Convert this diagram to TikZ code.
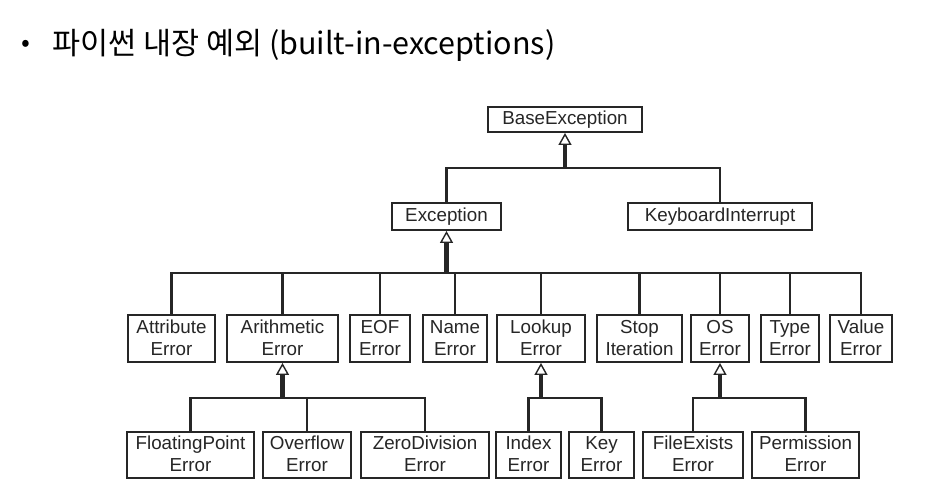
\documentclass[tikz,border=0pt]{standalone}
\usepackage{fontspec}
\setmainfont{Liberation Sans}
\newfontfamily\krfont{Noto Sans CJK KR}
\usetikzlibrary{arrows.meta}
\newcommand\twoline[2]{\rule{0pt}{18pt}#1\\#2\rule[-6.6pt]{0pt}{6.6pt}}
\newcommand\oneline[1]{\rule[-5pt]{0pt}{19pt}#1}
\begin{document}
\begin{tikzpicture}[x=1pt,y=-1pt,
  box/.style={draw=black!85, line width=1.9pt, rectangle, inner sep=0pt, align=center,
    font=\fontsize{18.8}{22}\selectfont, text=black!85},
  conn/.style={draw=black!85, line width=2.2pt},
  inh/.style={draw=black!85, line width=4.2pt,
    -{Triangle[open, width=13pt, length=12pt, line width=1.4pt]}}]
\useasboundingbox (0,0) rectangle (930,490);
\fill[white] (0,0) rectangle (930,490);
% title
\node[anchor=center, font=\fontsize{26}{30}\selectfont] (bul) at (26,46) {\krfont •};
\node[anchor=west, font=\krfont\fontsize{30.5}{34}\selectfont, inner sep=0pt] (title) at (52,45) {파이썬 내장 예외 (built-in-exceptions)};
% level 0/1
\node[box, minimum width=154pt, minimum height=25pt] (base) at (565,119.5) {\oneline{BaseException}};
\node[box, minimum width=109pt, minimum height=27pt] (exc) at (446.5,216.5) {\oneline{Exception}};
\node[box, minimum width=184pt, minimum height=27pt] (kbd) at (720,216.5) {\oneline{KeyboardInterrupt}};
% level 2
\def\rtwo{338.5}
\node[box, minimum width=87pt, minimum height=47pt] (attr) at (171.5,\rtwo) {\twoline{Attribute}{Error}};
\node[box, minimum width=111pt, minimum height=47pt] (arith) at (282.5,\rtwo) {\twoline{Arithmetic}{Error}};
\node[box, minimum width=60pt, minimum height=47pt] (eof) at (380,\rtwo) {\twoline{EOF}{Error}};
\node[box, minimum width=64pt, minimum height=47pt] (name) at (455,\rtwo) {\twoline{Name}{Error}};
\node[box, minimum width=88pt, minimum height=47pt] (look) at (541,\rtwo) {\twoline{Lookup}{Error}};
\node[box, minimum width=85pt, minimum height=47pt] (stop) at (639.5,\rtwo) {\twoline{Stop}{Iteration}};
\node[box, minimum width=58pt, minimum height=47pt] (os) at (720,\rtwo) {\twoline{OS}{Error}};
\node[box, minimum width=58pt, minimum height=47pt] (type) at (790,\rtwo) {\twoline{Type}{Error}};
\node[box, minimum width=62pt, minimum height=47pt] (value) at (861,\rtwo) {\twoline{Value}{Error}};
% level 3
\def\rthree{455}
\node[box, minimum width=127pt, minimum height=46pt] (float) at (190.5,\rthree) {\twoline{FloatingPoint}{Error}};
\node[box, minimum width=88pt, minimum height=46pt] (over) at (307,\rthree) {\twoline{Overflow}{Error}};
\node[box, minimum width=128pt, minimum height=46pt] (zero) at (425,\rthree) {\twoline{ZeroDivision}{Error}};
\node[box, minimum width=65pt, minimum height=46pt] (index) at (528.5,\rthree) {\twoline{Index}{Error}};
\node[box, minimum width=65pt, minimum height=46pt] (key) at (601.5,\rthree) {\twoline{Key}{Error}};
\node[box, minimum width=100pt, minimum height=46pt] (fexist) at (693,\rthree) {\twoline{FileExists}{Error}};
\node[box, minimum width=107pt, minimum height=46pt] (perm) at (805.5,\rthree) {\twoline{Permission}{Error}};
% junction points
\coordinate (j0) at (565,168);
\coordinate (j1) at (446.5,273);
\coordinate (j2) at (282.5,398);
\coordinate (j3) at (541,398);
\coordinate (j4) at (720,398);
% connectors: BaseException
\draw[conn] (exc.north) |- (j0) -| (kbd.north);
\draw[inh] (j0) -- (base.south);
% Exception
\draw[conn] (attr.north) |- (j1) -| (value.north);
\foreach \c in {arith,eof,name,look,stop,os,type} \draw[conn] (\c.north) -- (\c.north |- j1);
\draw[inh] (j1) -- (exc.south);
% Arithmetic
\draw[conn] (float.north) |- (j2) -| (zero.north);
\draw[conn] (over.north) -- (over.north |- j2);
\draw[inh] (j2) -- (arith.south);
% Lookup
\draw[conn] (index.north) |- (j3) -| (key.north);
\draw[inh] (j3) -- (look.south);
% OS
\draw[conn] (fexist.north) |- (j4) -| (perm.north);
\draw[inh] (j4) -- (os.south);
\end{tikzpicture}
\end{document}
